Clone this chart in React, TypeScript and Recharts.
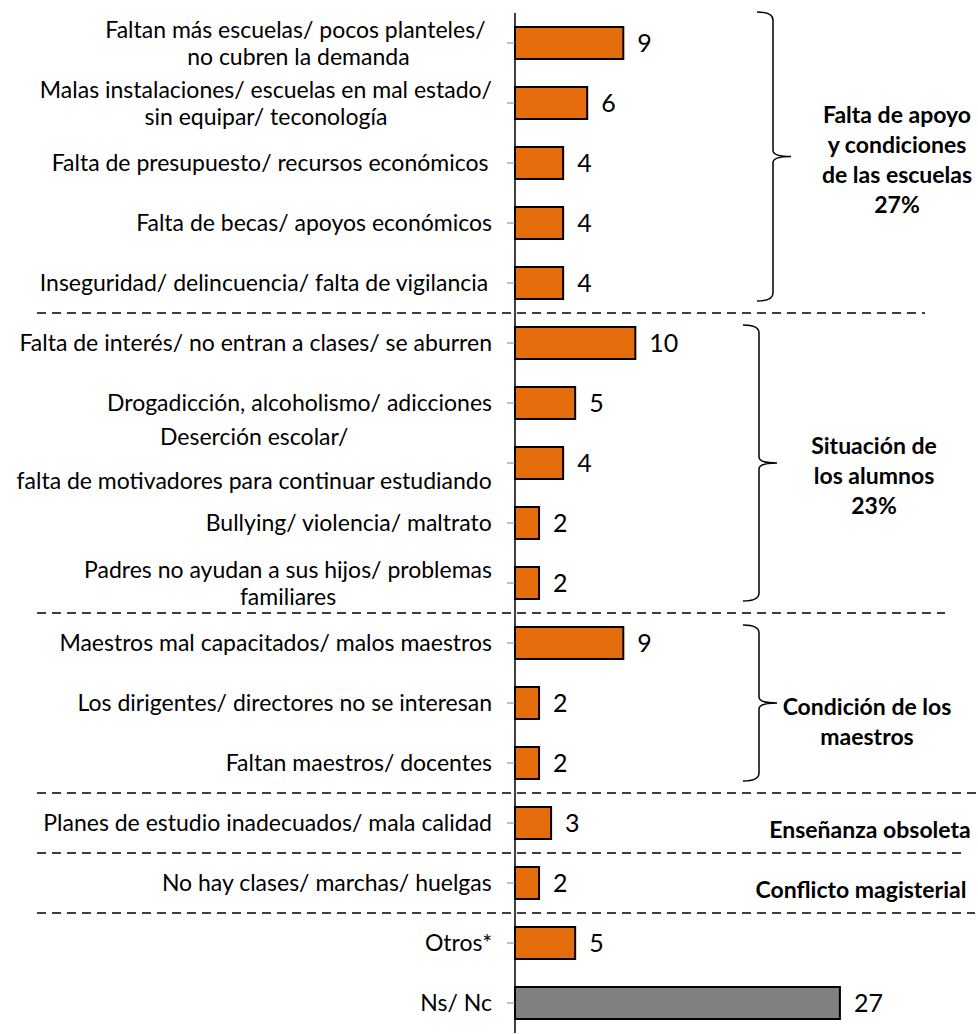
import React from "react";
import { BarChart, Bar, XAxis, YAxis, Cell, LabelList } from "recharts";

const categories = [
  "Faltan más escuelas/ pocos planteles/ \nno cubren la demanda",
  "Malas instalaciones/ escuelas en mal estado/\nsin equipar/ teconología",
  "Falta de presupuesto/ recursos económicos ",
  "Falta de becas/ apoyos económicos",
  "Inseguridad/ delincuencia/ falta de vigilancia ",
  "Falta de interés/ no entran a clases/ se aburren",
  "Drogadicción, alcoholismo/ adicciones",
  "Deserción escolar/\n\nfalta de motivadores para continuar estudiando",
  "Bullying/ violencia/ maltrato",
  "Padres no ayudan a sus hijos/ problemas\nfamiliares",
  "Maestros mal capacitados/ malos maestros",
  "Los dirigentes/ directores no se interesan",
  "Faltan maestros/ docentes",
  "Planes de estudio inadecuados/ mala calidad",
  "No hay clases/ marchas/ huelgas",
  "Otros*",
  "Ns/ Nc",
];
const values = [9, 6, 4, 4, 4, 10, 5, 4, 2, 2, 9, 2, 2, 3, 2, 5, 27];
const grayRows = [16];

const groupStart = [0, 5, 10, 13, 14];
const groupSize = [5, 5, 3, 1, 1];
const groupTitles = [
  ["Falta de apoyo", "y condiciones", "de las escuelas", "27%"],
  ["Situación de", "los alumnos", "23%"],
  ["Condición de los", "maestros"],
  ["Enseñanza obsoleta"],
  ["Conflicto magisterial"],
];
const dividerRows = [5, 10, 13, 14, 15];

const data = categories.map((name, i) => ({ name, value: values[i] }));

// layout
const W = 978;
const H = 1034;
const MARGIN = { top: 13, right: 102, bottom: 1, left: 0 };
const AXIS_W = 515;
const BAND = (H - MARGIN.top - MARGIN.bottom) / categories.length;
const LABEL_RIGHT = 492;
const FONT = "Lato, 'Open Sans', sans-serif";
const TICK_SIZE = 23;
const ORANGE = "#E46C0A";
const GRAY = "#808080";

const dividerEnd = [925, 945, 978, 965, 975];
const bracketX = [757, 743, 743];
const titleX = [897, 874, 867, 870, 861];
const titleDy = [-3, 13, 19, 7, 7];

let ctx: CanvasRenderingContext2D | null = null;
function textWidth(s: string) {
  if (!ctx) ctx = document.createElement("canvas").getContext("2d");
  if (!ctx) return s.length * 11;
  ctx.font = `${TICK_SIZE}px Lato`;
  return ctx.measureText(s.replace(/\s+$/, "")).width + (s.match(/\s+$/) ? 7 : 0);
}

function CategoryTick(props: any) {
  const { y, payload } = props;
  const i = payload.index;
  const lines = String(payload.value).split("\n");
  const maxW = Math.max(...lines.map(textWidth));
  const cx = LABEL_RIGHT - maxW / 2;
  const lh = 27;
  const offs: number[] = [];
  let acc = 0;
  lines.forEach((l, k) => {
    if (k > 0) acc += lines[k - 1] === "" ? lh * 0.6 : lh;
    offs.push(acc);
  });
  const y0 = y - acc / 2 - (lines.length > 2 ? 4 : 0);

  const top = y - BAND / 2;
  const d = dividerRows.indexOf(i);
  const g = groupStart.indexOf(i);

  let group: React.ReactNode = null;
  if (g >= 0) {
    const gBottom = top + groupSize[g] * BAND;
    const mid = (top + gBottom) / 2;
    let bracket: React.ReactNode = null;
    if (groupSize[g] > 1) {
      const bt = top + (g === 0 ? -1 : 12);
      const bb = gBottom - 12;
      const bm = (bt + bb) / 2;
      const x0 = bracketX[g];
      const xv = x0 + 16;
      const xt = xv + 18;
      bracket = (
        <path
          d={`M${x0},${bt} Q${xv},${bt} ${xv},${bt + 8} L${xv},${bm - 6} Q${xv},${bm} ${xt},${bm} Q${xv},${bm} ${xv},${bm + 6} L${xv},${bb - 8} Q${xv},${bb} ${x0},${bb}`}
          fill="none"
          stroke="#000"
          strokeWidth={1.5}
        />
      );
    }
    const t = groupTitles[g];
    const tlh = 30;
    const ty = mid + titleDy[g] - ((t.length - 1) * tlh) / 2;
    group = (
      <g>
        {bracket}
        <text textAnchor="middle" fontFamily={FONT} fontWeight={700} fontSize={23} fill="#000">
          {t.map((l, k) => (
            <tspan key={k} x={titleX[g]} y={ty + k * tlh} dy="0.35em">
              {l}
            </tspan>
          ))}
        </text>
      </g>
    );
  }

  return (
    <g>
      {d >= 0 && (
        <line x1={37} x2={dividerEnd[d]} y1={top} y2={top} stroke="#000" strokeWidth={1.5} strokeDasharray="9 6" />
      )}
      <text textAnchor="middle" fontFamily={FONT} fontSize={TICK_SIZE} fill="#000">
        {lines.map((l, k) => (
          <tspan key={k} x={cx} y={y0 + offs[k]} dy="0.35em">
            {l}
          </tspan>
        ))}
      </text>
      {group}
    </g>
  );
}

export default function App() {
  return (
    <div style={{ position: "absolute", left: 0, top: 0, background: "#fff" }}>
      <BarChart width={W} height={H} data={data} layout="vertical" margin={MARGIN} barSize={32}>
        <XAxis type="number" domain={[0, 30]} hide />
        <YAxis
          type="category"
          dataKey="name"
          width={AXIS_W}
          interval={0}
          tickSize={8}
          tickLine={{ stroke: GRAY }}
          axisLine={{ stroke: "#000", strokeWidth: 1.5 }}
          tick={<CategoryTick />}
        />
        <Bar dataKey="value" stroke="#000" strokeWidth={2} isAnimationActive={false}>
          {data.map((_, i) => (
            <Cell key={i} fill={grayRows.includes(i) ? GRAY : ORANGE} />
          ))}
          <LabelList dataKey="value" position="right" offset={14} fontSize={25} fontFamily={FONT} fill="#000" />
        </Bar>
      </BarChart>
    </div>
  );
}
